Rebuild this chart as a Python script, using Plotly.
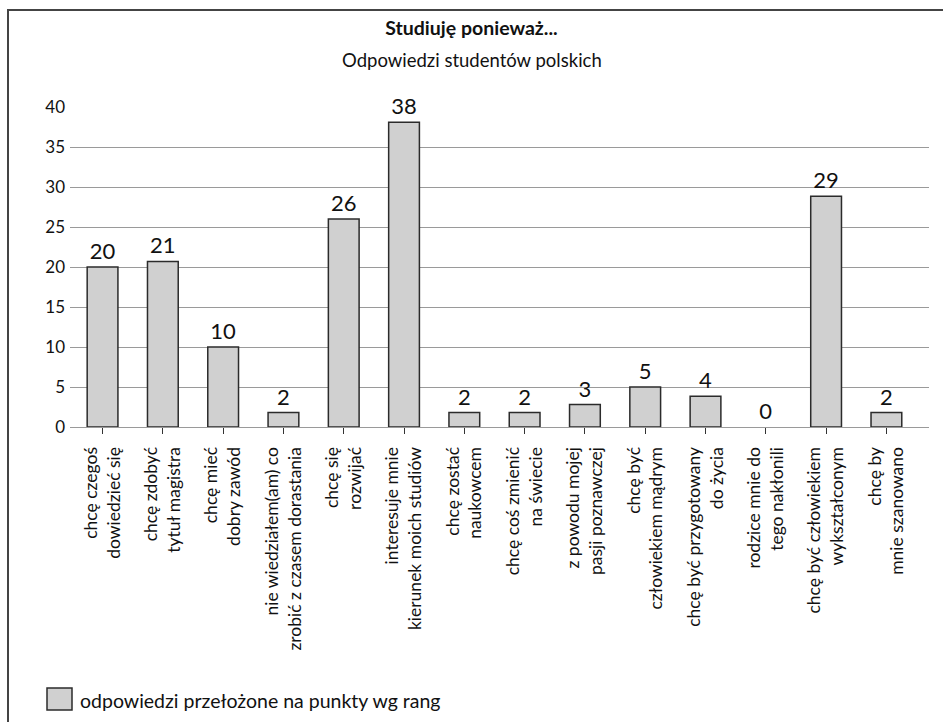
import plotly.graph_objects as go

categories = [
    "chcę czegoś<br>dowiedzieć się",
    "chcę zdobyć<br>tytuł magistra",
    "chcę mieć<br>dobry zawód",
    "nie wiedziałem(am) co<br>zrobić z czasem dorastania",
    "chcę się<br>rozwijać",
    "interesuje mnie<br>kierunek moich studiów",
    "chcę zostać<br>naukowcem",
    "chcę coś zmienić<br>na świecie",
    "z powodu mojej<br>pasji poznawczej",
    "chcę być<br>człowiekiem mądrym",
    "chcę być przygotowany<br>do życia",
    "rodzice mnie do<br>tego nakłonili",
    "chcę być człowiekiem<br>wykształconym",
    "chcę by<br>mnie szanowano",
]
values = [20, 20.7, 10, 1.8, 26, 38.1, 1.8, 1.8, 2.8, 5, 3.85, 0, 28.85, 1.8]
series_name = "odpowiedzi przełożone na punkty wg rang"
y_ticks = [0, 5, 10, 15, 20, 25, 30, 35, 40]
title_text = "Studiuję ponieważ..."
subtitle_text = "Odpowiedzi studentów polskich"

FONT = "Lato"
W, H = 943, 722
ML, MR, MT, MB = 70, 14, 107, 295
PW, PH = W - ML - MR, H - MT - MB

def px_x(px):
    return (px - ML) / PW

def px_y(py):
    return (H - MB - py) / PH

fig = go.Figure()
fig.add_trace(go.Bar(
    x=list(range(len(categories))),
    y=values,
    name=series_name,
    marker=dict(color="#d0d0d0",
                line=dict(color="#2b2b2b", width=[0 if v == 0 else 1.5 for v in values])),
    texttemplate="%{y:.0f}",
    textposition="outside",
    textfont=dict(family=FONT, size=22, color="#111"),
    cliponaxis=False,
    showlegend=False,
))

extra = (929 - 916.5) / 60.5
fig.update_layout(
    width=W, height=H,
    margin=dict(l=ML, r=MR, t=MT, b=MB),
    paper_bgcolor="white", plot_bgcolor="white",
    font=dict(family=FONT, color="#111"),
    bargap=0.49,
    title=dict(
        text="<b>" + title_text + "</b>",
        x=0.5, xanchor="center", xref="container",
        y=1 - 28 / H, yanchor="middle", yref="container",
        font=dict(family=FONT, size=19.5, color="#111"),
    ),
    xaxis=dict(
        range=[-0.5 - 0.04, len(categories) - 0.5 + extra],
        tickmode="array",
        tickvals=list(range(len(categories))),
        ticktext=categories,
        tickangle=-90,
        tickson="boundaries",
        ticks="outside", ticklen=6, tickcolor="#333", tickwidth=1.2,
        showgrid=False, showline=False, zeroline=False,
        tickfont=dict(family=FONT, size=17.5, color="#111"),
        ticklabelstandoff=6,
        fixedrange=True,
    ),
    yaxis=dict(
        range=[0, 40],
        tickmode="array", tickvals=y_ticks,
        showgrid=True, gridcolor="#9a9a9a", gridwidth=1,
        zeroline=True, zerolinecolor="#9a9a9a", zerolinewidth=1,
        showline=False, ticks="",
        tickfont=dict(family=FONT, size=17, color="#111"),
        ticklabelstandoff=4,
        fixedrange=True,
    ),
    showlegend=False,
)

# subtitle
fig.add_annotation(
    text=subtitle_text, xref="paper", yref="paper",
    x=px_x(471.5), y=px_y(60), xanchor="center", yanchor="middle",
    showarrow=False, font=dict(family=FONT, size=18.5, color="#111"),
)

# outer frame
fig.add_shape(type="rect", xref="paper", yref="paper",
              x0=px_x(8), x1=px_x(960), y0=px_y(740), y1=px_y(10),
              line=dict(color="#444", width=2), fillcolor="rgba(0,0,0,0)", layer="below")

# legend (key box + label)
fig.add_shape(type="rect", xref="paper", yref="paper",
              x0=px_x(47), x1=px_x(72), y0=px_y(710), y1=px_y(688),
              line=dict(color="#2b2b2b", width=1.5), fillcolor="#d0d0d0")
fig.add_annotation(
    text=series_name, xref="paper", yref="paper",
    x=px_x(78), y=px_y(700), xanchor="left", yanchor="middle",
    showarrow=False, font=dict(family=FONT, size=19.5, color="#111"),
)

fig.write_html("out.html")
